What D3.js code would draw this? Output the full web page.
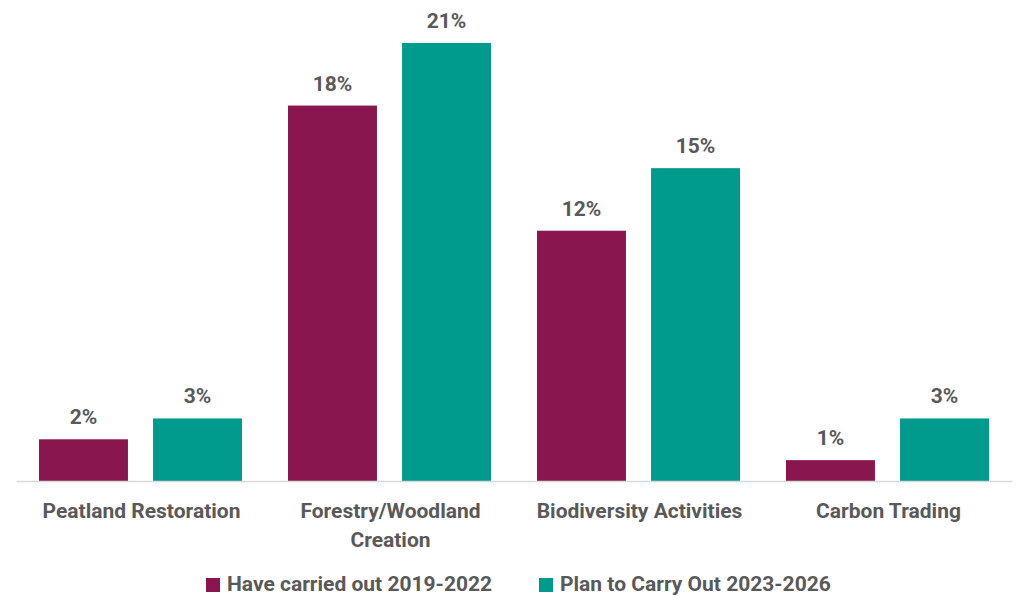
<!DOCTYPE html>
<html>
<head>
<meta charset="utf-8">
<script src="https://cdn.jsdelivr.net/npm/d3@7"></script>
<style>
  body { margin: 0; background: #fff; }
  text { font-family: Roboto, "Noto Sans", sans-serif; font-weight: bold; fill: #595959; }
</style>
</head>
<body>
<svg width="1016" height="595"></svg>
<script>
// categories and series
var categories = ["Peatland Restoration", "Forestry/Woodland Creation", "Biodiversity Activities", "Carbon Trading"];
var seriesNames = ["Have carried out 2019-2022", "Plan to Carry Out 2023-2026"];
var carriedOut = [2, 18, 12, 1];
var planned = [3, 21, 15, 3];
var colors = ["#8a164f", "#009b8d"];

var svg = d3.select("svg"),
    margin = {top: 43, right: 4, bottom: 114, left: 16},
    width = +svg.attr("width") - margin.left - margin.right,
    height = +svg.attr("height") - margin.top - margin.bottom,
    g = svg.append("g").attr("transform", "translate(" + margin.left + "," + margin.top + ")");

var data = categories.map(function(c, i) {
  return {cat: c, values: [carriedOut[i], planned[i]]};
});

var x0 = d3.scaleBand().domain(categories).range([0, width]).paddingInner(0).paddingOuter(0);
var x1 = d3.scaleBand().domain([0, 1]).range([23, 226]).paddingInner(0.22);
var y = d3.scaleLinear().domain([0, 21]).range([height, 0]);

var group = g.selectAll(".group")
  .data(data)
  .enter().append("g")
    .attr("class", "group")
    .attr("transform", function(d) { return "translate(" + x0(d.cat) + ",0)"; });

group.selectAll("rect")
  .data(function(d) { return d.values.map(function(v, i) { return {i: i, v: v}; }); })
  .enter().append("rect")
    .attr("x", function(d) { return x1(d.i); })
    .attr("y", function(d) { return y(d.v); })
    .attr("width", x1.bandwidth())
    .attr("height", function(d) { return height - y(d.v); })
    .attr("fill", function(d) { return colors[d.i]; });

group.selectAll(".val")
  .data(function(d) { return d.values.map(function(v, i) { return {i: i, v: v}; }); })
  .enter().append("text")
    .attr("class", "val")
    .attr("x", function(d) { return x1(d.i) + x1.bandwidth() / 2; })
    .attr("y", function(d) { return y(d.v) - 15; })
    .attr("text-anchor", "middle")
    .style("font-size", "21px")
    .text(function(d) { return d.v + "%"; });

// baseline axis
var xAxis = g.append("g")
  .attr("transform", "translate(0," + height + ")")
  .call(d3.axisBottom(x0).tickSize(0).tickPadding(0).tickFormat(""));
xAxis.select(".domain").attr("stroke", "#d9d9d9").attr("stroke-width", 1.5);

// category labels (wrapped)
var catLabels = {
  "Peatland Restoration": ["Peatland Restoration"],
  "Forestry/Woodland Creation": ["Forestry/Woodland", "Creation"],
  "Biodiversity Activities": ["Biodiversity Activities"],
  "Carbon Trading": ["Carbon Trading"]
};
g.selectAll(".cat")
  .data(categories)
  .enter().append("text")
    .attr("class", "cat")
    .attr("text-anchor", "middle")
    .style("font-size", "21px")
    .attr("transform", function(d) { return "translate(" + (x0(d) + x0.bandwidth() / 2 + 1) + "," + (height + 37) + ")"; })
    .each(function(d) {
      var t = d3.select(this);
      catLabels[d].forEach(function(line, i) {
        t.append("tspan").attr("x", 0).attr("dy", i === 0 ? 0 : 29).text(line);
      });
    });

// legend
var legendX = [206, 539];
var legend = svg.selectAll(".legend")
  .data(seriesNames)
  .enter().append("g")
    .attr("class", "legend")
    .attr("transform", function(d, i) { return "translate(" + legendX[i] + ",578)"; });
legend.append("rect")
  .attr("width", 14).attr("height", 14)
  .attr("fill", function(d, i) { return colors[i]; });
legend.append("text")
  .attr("x", 21).attr("y", 13)
  .style("font-size", "21px")
  .text(function(d) { return d; });
</script>
</body>
</html>
